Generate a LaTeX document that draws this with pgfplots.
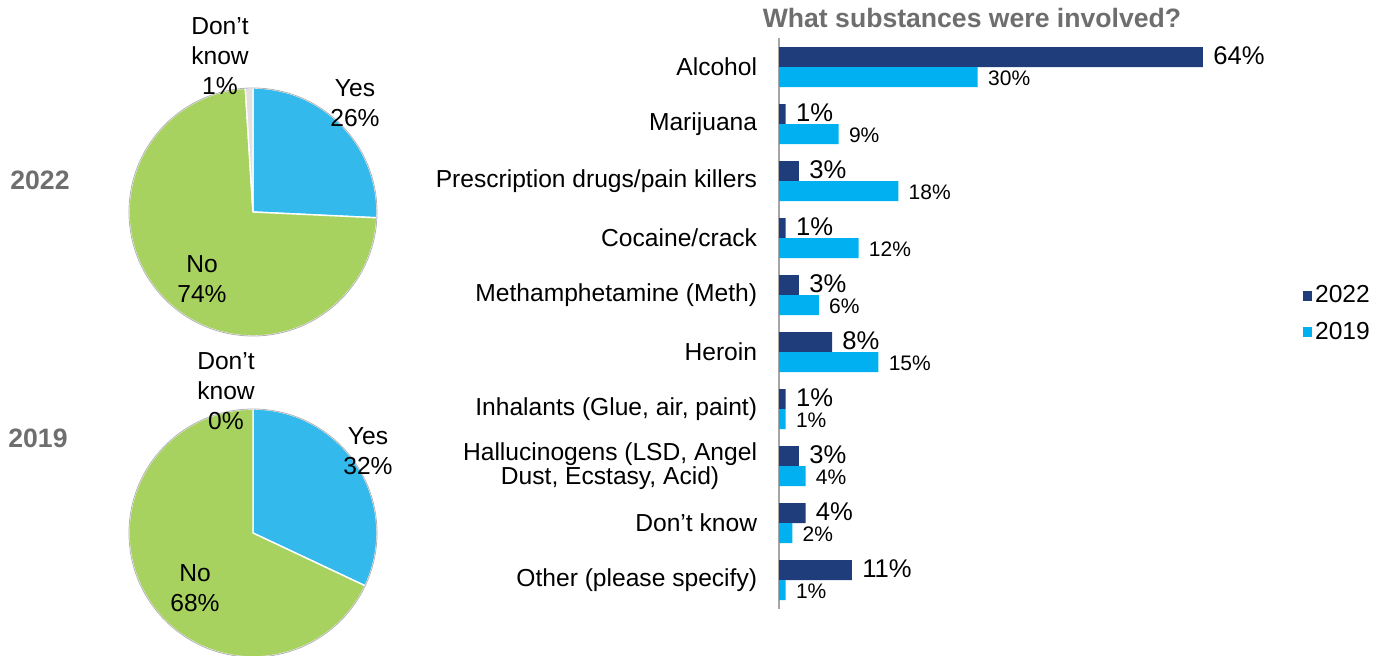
\documentclass[border=0pt]{standalone}
\usepackage{pgfplots}
\pgfplotsset{compat=1.18}
\usepackage{fontspec}
\setmainfont{Liberation Sans}
\definecolor{pieblue}{RGB}{51,185,236}
\definecolor{piegreen}{RGB}{168,210,96}
\definecolor{piegray}{RGB}{225,225,225}
\definecolor{cA}{RGB}{31,61,122}
\definecolor{cB}{RGB}{0,176,240}
\definecolor{titlegray}{RGB}{110,110,110}
\newcommand{\pieslice}[4]{% cumulative, value, total, colour
  \fill[#4, draw=white, line width=0.7pt] (axis cs:0,0) -- ++({90-(#1)/(#3)*360}:62pt)
    arc[start angle={90-(#1)/(#3)*360}, delta angle={-(#2)/(#3)*360}, radius=62pt] -- cycle;}
\begin{document}
\begin{tikzpicture}
\useasboundingbox (0pt,0pt) rectangle (696pt,327.5pt);
% ---------- Pie 2022 ----------
\begin{axis}[at={(126.5pt,221.5pt)}, anchor=center, scale only axis, width=124pt, height=124pt,
  xmin=-1, xmax=1, ymin=-1, ymax=1, hide axis, clip=false]
  \addplot[draw=none, forget plot] coordinates {(-1,-1) (1,1)};
  \pieslice{0}{26}{101}{pieblue}
  \pieslice{26}{74}{101}{piegreen}
  \pieslice{100}{1}{101}{piegray}
  \draw[gray!60, line width=0.4pt] (axis cs:0,1) arc[start angle=90, delta angle=360, radius=62pt];
\end{axis}
% ---------- Pie 2019 ----------
\begin{axis}[at={(126.5pt,61pt)}, anchor=center, scale only axis, width=124pt, height=124pt,
  xmin=-1, xmax=1, ymin=-1, ymax=1, hide axis, clip=false]
  \addplot[draw=none, forget plot] coordinates {(-1,-1) (1,1)};
  \pieslice{0}{32}{100}{pieblue}
  \pieslice{32}{68}{100}{piegreen}
  \draw[gray!60, line width=0.4pt] (axis cs:0,1) arc[start angle=90, delta angle=360, radius=62pt];
\end{axis}
% pie labels
\begin{scope}[every node/.style={align=center, font=\fontsize{12.3}{15}\selectfont, inner sep=0pt}]
\node at (110pt,299.5pt) {Don’t\\know\\1\%};
\node at (177.5pt,275.75pt) {Yes\\26\%};
\node at (101pt,188pt) {No\\74\%};
\node at (113pt,132pt) {Don’t\\know\\0\%};
\node at (184pt,102pt) {Yes\\32\%};
\node at (97.5pt,33.5pt) {No\\68\%};
\end{scope}
\node[font=\fontsize{13.3}{15}\selectfont\bfseries, text=titlegray, inner sep=0pt] at (20pt,237.5pt) {2022};
\node[font=\fontsize{13.3}{15}\selectfont\bfseries, text=titlegray, inner sep=0pt] at (19pt,108.5pt) {2019};
\node[font=\fontsize{13.3}{15}\selectfont\bfseries, text=titlegray, inner sep=0pt] at (486pt,318.5pt) {What substances were involved?};
% ---------- Bar chart ----------
\begin{axis}[at={(389.5pt,23.25pt)}, anchor=south west, scale only axis,
  width=231.875pt, height=285pt,
  xmin=0, xmax=70, ymin=-0.5, ymax=9.5, y dir=reverse,
  xbar, bar width=10pt, clip=false,
  axis x line=none, axis y line*=left,
  y axis line style={draw=gray!70, line width=0.6pt, -},
  ytick={0,...,9}, ytick style={draw=none},
  yticklabels={Alcohol, Marijuana, Prescription drugs/pain killers, Cocaine/crack,
    Methamphetamine (Meth), Heroin, {Inhalants (Glue, air, paint)},
    {Hallucinogens (LSD, Angel\\Dust, Ecstasy, Acid)}, Don’t know, Other (please specify)},
  yticklabel style={align=center, anchor=east, inner sep=0pt, xshift=-6.5pt,
    font=\fontsize{12.3}{11.7}\selectfont},
  /pgf/number format/assume math mode=true,
  legend style={at={(1.116,0.5167)}, anchor=west, draw=none, fill=none,
    font=\fontsize{12.3}{14}\selectfont, row sep=5pt,
    nodes={inner sep=1.5pt}},
  legend cell align=left,
]
\addplot[fill=cA, draw=none, bar shift=5pt,
  nodes near coords={\pgfmathprintnumber{\pgfplotspointmeta}\%},
  nodes near coords style={anchor=west, inner sep=0pt, xshift=5pt, yshift=0.8pt, font=\fontsize{12.8}{14}\selectfont},
  legend image code/.code={\fill[cA] (0pt,-2.3pt) rectangle (4.6pt,2.3pt);}]
  coordinates {(64,0) (1,1) (3,2) (1,3) (3,4) (8,5) (1,6) (3,7) (4,8) (11,9)};
\addlegendentry{2022}
\addplot[fill=cB, draw=none, bar shift=-5pt,
  nodes near coords={\pgfmathprintnumber{\pgfplotspointmeta}\%},
  nodes near coords style={anchor=west, inner sep=0pt, xshift=5pt, yshift=-0.6pt, font=\fontsize{10.5}{12}\selectfont},
  legend image code/.code={\fill[cB] (0pt,-2.3pt) rectangle (4.6pt,2.3pt);}]
  coordinates {(30,0) (9,1) (18,2) (12,3) (6,4) (15,5) (1,6) (4,7) (2,8) (1,9)};
\addlegendentry{2019}
\end{axis}
\end{tikzpicture}
\end{document}
